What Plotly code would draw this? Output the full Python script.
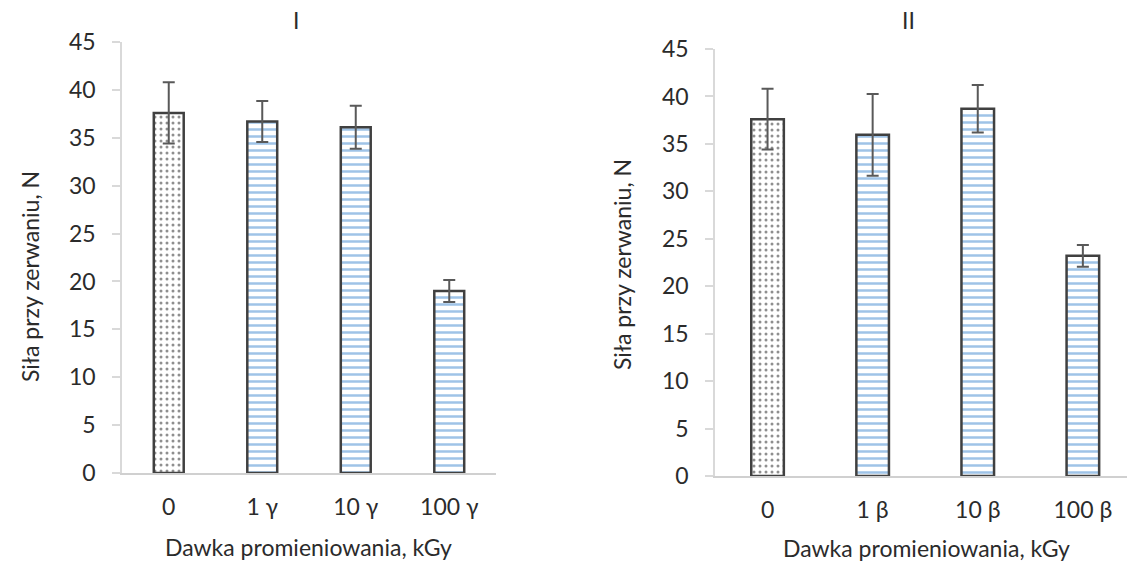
import plotly.graph_objects as go

# ---- data ----
cats_gamma = ["0", "1 γ", "10 γ", "100 γ"]
vals_gamma = [37.6, 36.7, 36.1, 19.0]
err_gamma = [3.2, 2.15, 2.25, 1.15]

cats_beta = ["0", "1 β", "10 β", "100 β"]
vals_beta = [37.6, 35.95, 38.7, 23.2]
err_beta = [3.2, 4.3, 2.5, 1.15]

y_ticks = [0, 5, 10, 15, 20, 25, 30, 35, 40, 45]
panel_titles = ["I", "II"]
y_title = "Siła przy zerwaniu, N"
x_title = "Dawka promieniowania, kGy"

# ---- styling ----
W, H = 1127, 563
FONT = "Lato"
TXT = "#2b2b2b"
FS = 23
pat_shape = [".", "-", "-", "-"]
pat_fg = ["#202020", "#3f88cf", "#3f88cf", "#3f88cf"]
pat_size = [6, 7, 7, 7]
pat_sol = [0.2, 0.36, 0.36, 0.36]


def bar(cats, vals, errs, xa, ya, width):
    return go.Bar(
        x=cats, y=vals, xaxis=xa, yaxis=ya, width=width,
        marker=dict(
            color="white",
            line=dict(color="#404040", width=2.5),
            pattern=dict(shape=pat_shape, fgcolor=pat_fg, bgcolor="white",
                         size=pat_size, solidity=pat_sol, fillmode="overlay"),
        ),
        error_y=dict(type="data", array=errs, visible=True,
                     color="#595959", thickness=2, width=6),
        showlegend=False,
    )


fig = go.Figure()
fig.add_trace(bar(cats_gamma, vals_gamma, err_gamma, "x", "y", 0.32))
fig.add_trace(bar(cats_beta, vals_beta, err_beta, "x2", "y2", 0.31))


def px(x):
    return x / W


def py(y):
    return 1 - y / H


xcommon = dict(type="category", showline=True, linecolor="#d0d0d0", linewidth=2,
               ticks="", showgrid=False, zeroline=False,
               tickfont=dict(family=FONT, size=FS, color=TXT),
               ticklabelstandoff=12, fixedrange=True)
ycommon = dict(range=[0, 45], tickvals=y_ticks, showline=True, linecolor="#d9d9d9",
               linewidth=1.5, ticks="outside", ticklen=8, tickcolor="#d9d9d9",
               tickwidth=1.5, showgrid=False, zeroline=False,
               tickfont=dict(family=FONT, size=FS, color=TXT),
               ticklabelstandoff=12, fixedrange=True)

fig.update_layout(
    width=W, height=H, template="none",
    paper_bgcolor="white", plot_bgcolor="white",
    margin=dict(l=0, r=0, t=0, b=0),
    xaxis=dict(domain=[px(122), px(496)], range=[-0.5, 3.5], anchor="y", **xcommon),
    yaxis=dict(domain=[py(473), py(42)], anchor="x", **ycommon),
    xaxis2=dict(domain=[px(715), 1.0], range=[-0.5, 3.42], anchor="y2", **xcommon),
    yaxis2=dict(domain=[py(476), py(49)], anchor="x2", **ycommon),
)

ann = []
font = dict(family=FONT, size=FS, color=TXT)
for t, (x, y) in zip(panel_titles, [(296, 20), (908, 20)]):
    ann.append(dict(text=t, x=px(x), y=py(y), xref="paper", yref="paper",
                    showarrow=False, font=font, xanchor="center", yanchor="middle"))
for (x, y) in [(30, 277), (622, 265)]:
    ann.append(dict(text=y_title, x=px(x), y=py(y), xref="paper", yref="paper",
                    showarrow=False, font=font, textangle=-90,
                    xanchor="center", yanchor="middle"))
for (x, y) in [(308, 547), (926, 548)]:
    ann.append(dict(text=x_title, x=px(x), y=py(y), xref="paper", yref="paper",
                    showarrow=False, font=font, xanchor="center", yanchor="middle"))
fig.update_layout(annotations=ann)

fig.write_html("out.html")
